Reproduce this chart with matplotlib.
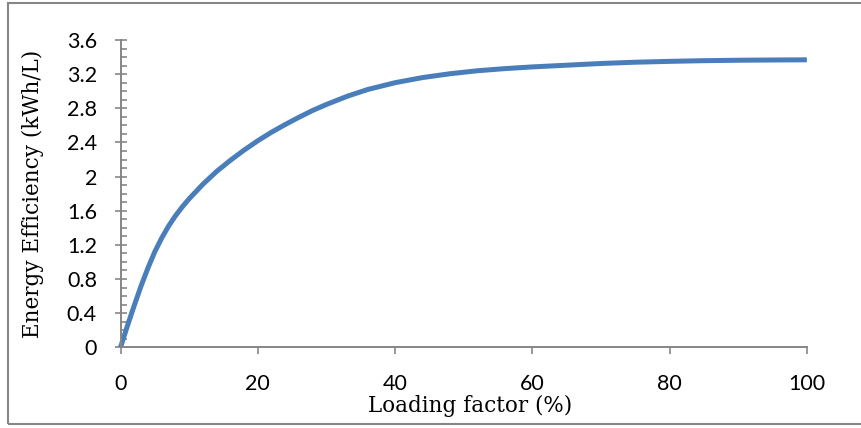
import matplotlib
matplotlib.use("Agg")
import matplotlib.pyplot as plt
from matplotlib.patches import Rectangle
from matplotlib.ticker import MultipleLocator

# Energy efficiency vs loading factor
loading = [0, 1, 2, 3, 4, 5, 6, 7, 8, 9, 10, 12, 14, 16, 18, 20, 22, 24, 26, 28, 30,
           33, 36, 40, 44, 48, 52, 56, 60, 65, 70, 75, 80, 85, 90, 95, 100]
efficiency = [0, 0.25, 0.49, 0.72, 0.93, 1.12, 1.28, 1.42, 1.54, 1.645, 1.74, 1.91, 2.06,
              2.19, 2.31, 2.42, 2.52, 2.61, 2.695, 2.775, 2.845, 2.94, 3.02, 3.10, 3.16,
              3.205, 3.24, 3.265, 3.285, 3.305, 3.325, 3.34, 3.35, 3.358, 3.363, 3.366, 3.368]
y_ticks = [0, 0.4, 0.8, 1.2, 1.6, 2, 2.4, 2.8, 3.2, 3.6]
y_tick_labels = ["0", "0.4", "0.8", "1.2", "1.6", "2", "2.4", "2.8", "3.2", "3.6"]
x_ticks = [0, 20, 40, 60, 80, 100]

axis_grey = "#868686"
line_blue = "#4a7ebb"

fig = plt.figure(figsize=(8.62, 4.28), dpi=100)
ax = fig.add_axes([0.1398, 0.1885, 0.7962, 0.718])

ax.plot(loading, efficiency, color=line_blue, lw=3.6, solid_capstyle="butt",
        solid_joinstyle="round", clip_on=False)

ax.set_xlim(0, 100)
ax.set_ylim(0, 3.6)
ax.set_xticks(x_ticks)
ax.set_yticks(y_ticks, y_tick_labels)
ax.yaxis.set_minor_locator(MultipleLocator(0.1))

for s in ["top", "right"]:
    ax.spines[s].set_visible(False)
for s in ["left", "bottom"]:
    ax.spines[s].set_color(axis_grey)
    ax.spines[s].set_linewidth(1.4)

ax.tick_params(axis="y", which="major", direction="inout", length=8, width=1.2,
               color=axis_grey, pad=13, labelsize=15.5, labelfontfamily="Lato")
ax.tick_params(axis="y", which="minor", direction="in", length=4, width=1.2, color=axis_grey)
ax.tick_params(axis="x", which="major", direction="out", length=5, width=1.2,
               color=axis_grey, pad=14, labelsize=15.5, labelfontfamily="Lato")

ax.set_xlabel("Loading factor (%)", family="DejaVu Serif", fontsize=15.5, va="center")
ax.set_ylabel("Energy Efficiency (kWh/L)", family="DejaVu Serif", fontsize=15.5, va="center")
ax.xaxis.set_label_coords(0.509, -0.19)
ax.yaxis.set_label_coords(-0.1275, 0.5)

# outer chart frame (right edge runs off the image)
fig.patches.append(Rectangle((8 / 862, 1 - 424 / 428), 1.2, 421 / 428,
                             transform=fig.transFigure, fill=False,
                             edgecolor=axis_grey, lw=1.5))

fig.savefig("out.png", dpi=100)
